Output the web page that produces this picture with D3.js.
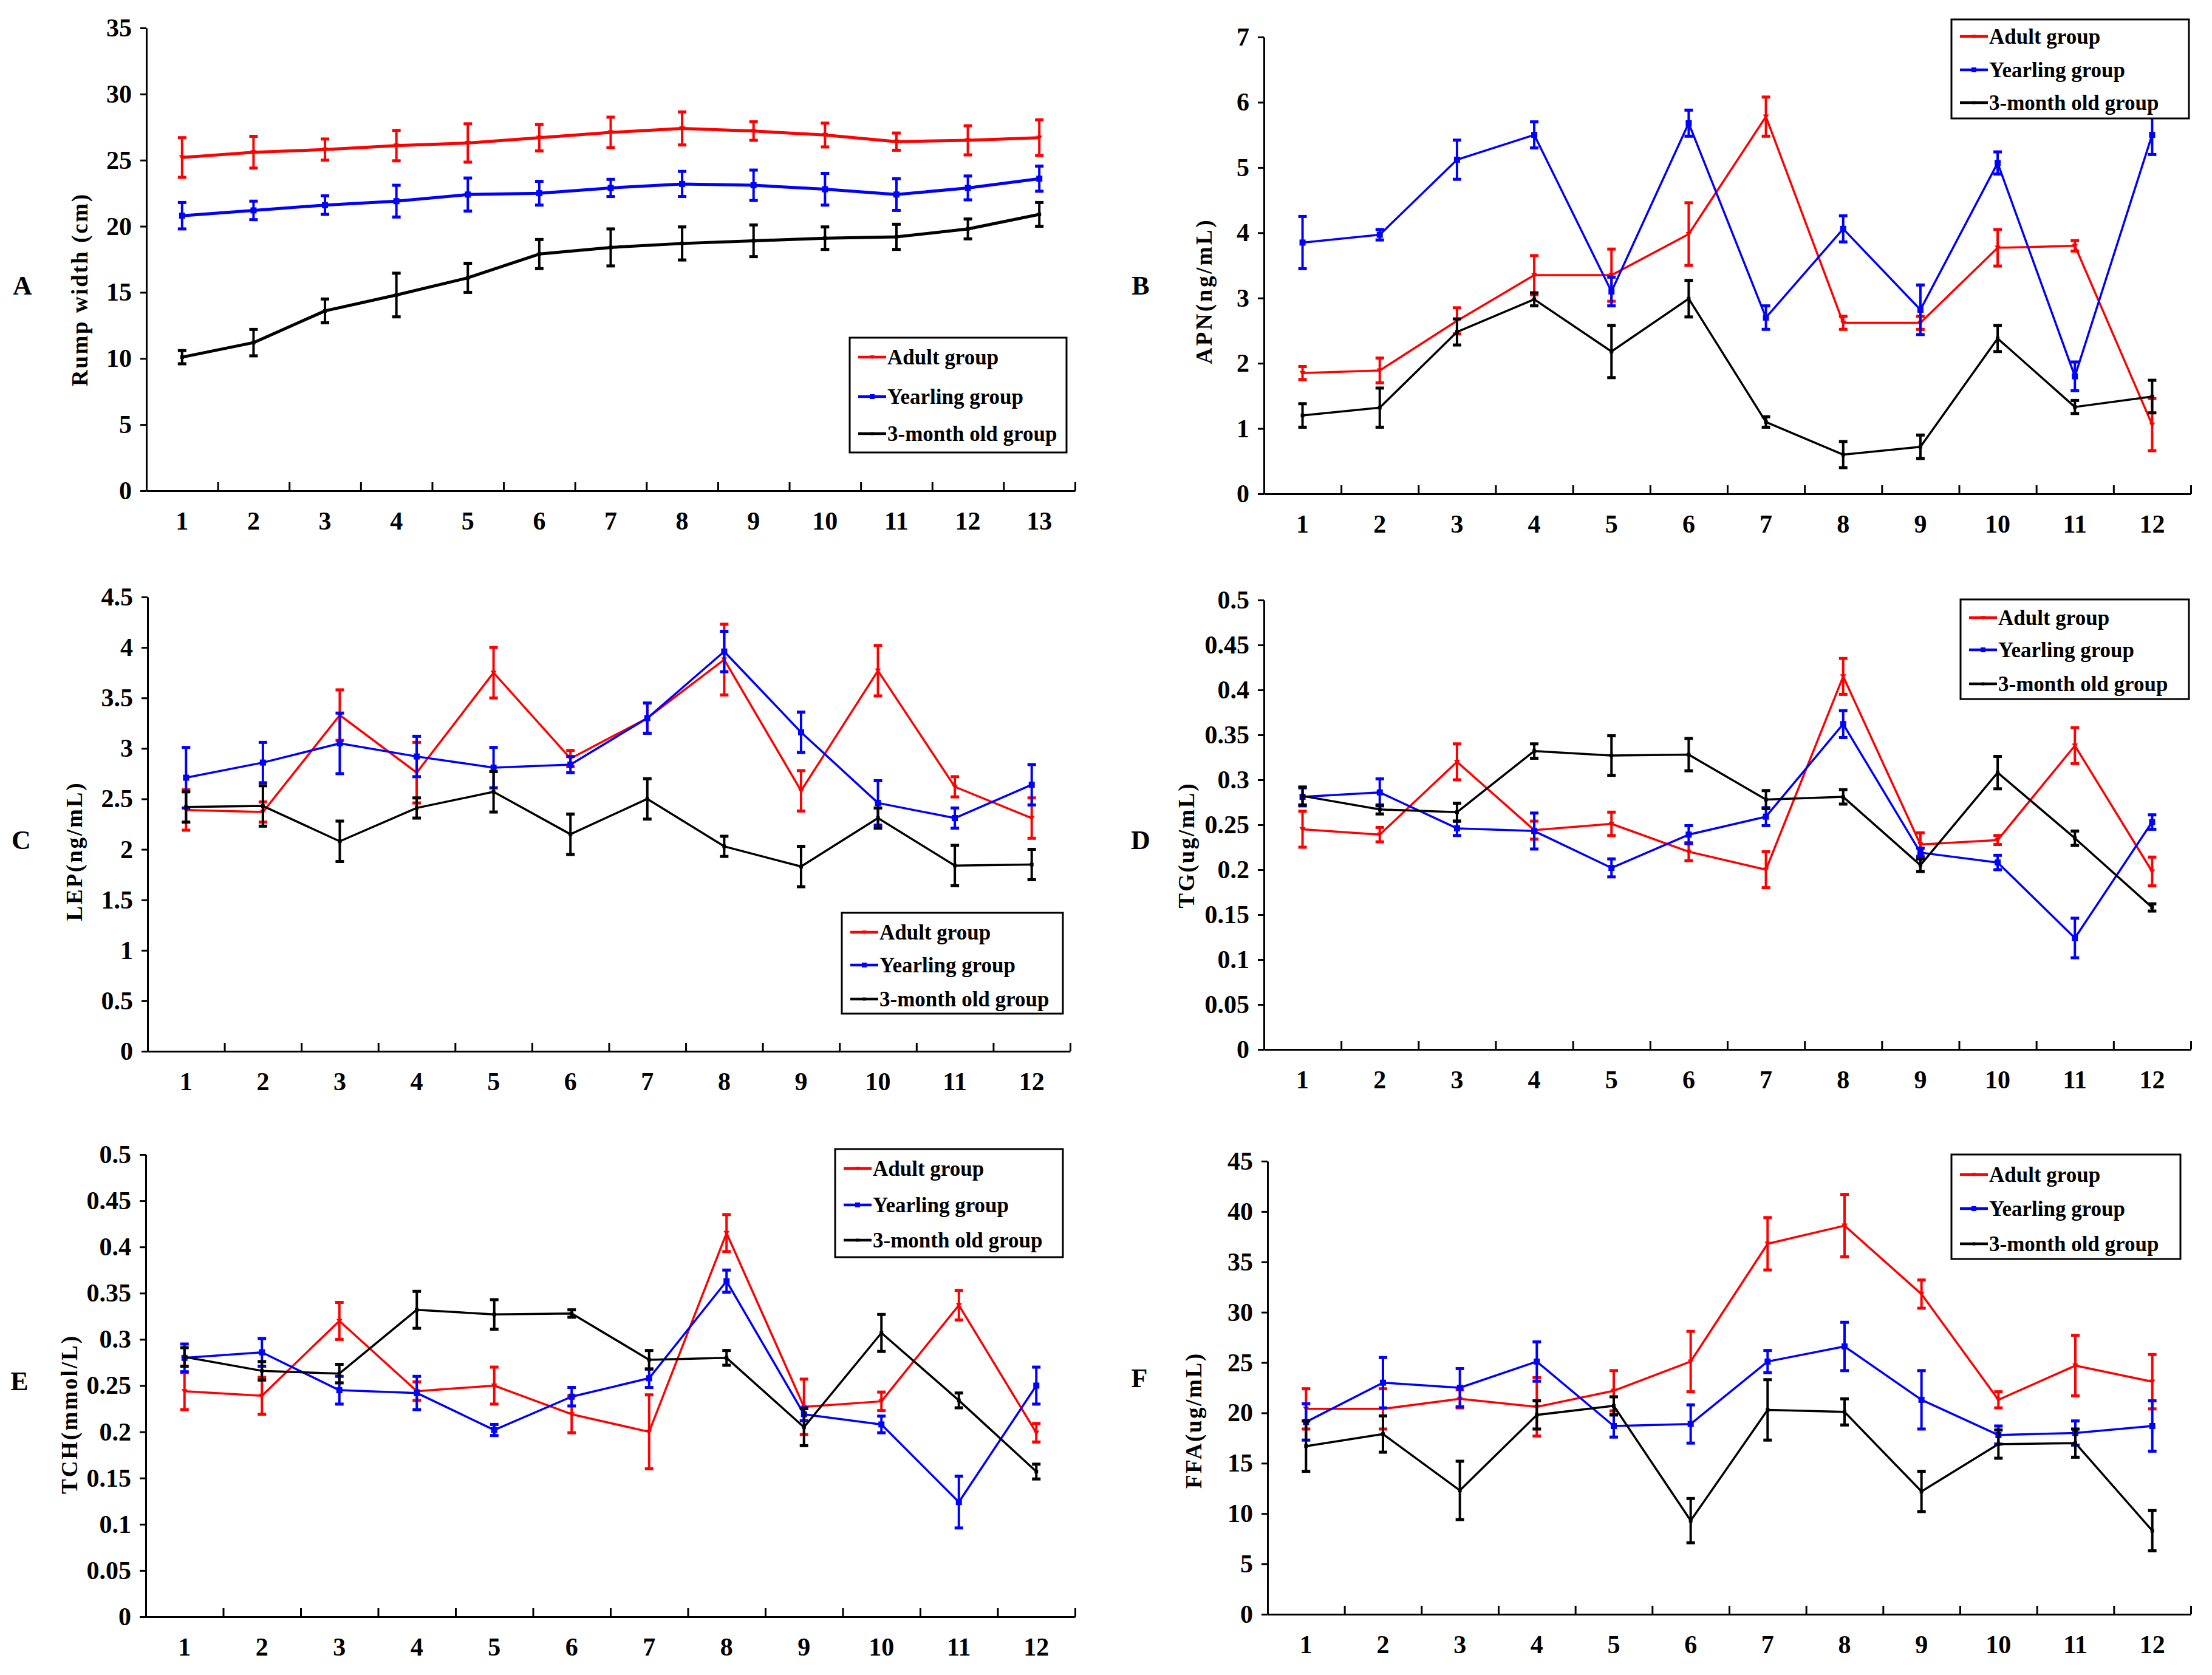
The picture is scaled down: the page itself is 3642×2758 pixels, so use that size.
<!DOCTYPE html>
<html><head><meta charset="utf-8">
<script src="https://cdn.jsdelivr.net/npm/d3@7"></script>
<style>html,body{margin:0;padding:0;background:#fff;} svg{display:block;}</style>
</head><body>
<svg id="chart" width="3642" height="2758"></svg>
<script>
// ---------- data ----------
const seriesNames = ["Adult group", "Yearling group", "3-month old group"];
const months13 = ["1","2","3","4","5","6","7","8","9","10","11","12","13"];
const months12 = ["1","2","3","4","5","6","7","8","9","10","11","12"];

// A: Rump width (cm)
const rumpAdult = [25.2,25.6,25.8,26.1,26.3,26.7,27.1,27.4,27.2,26.9,26.4,26.5,26.7];
const rumpAdultSE = [1.5,1.2,0.8,1.15,1.45,1.0,1.15,1.25,0.7,0.9,0.65,1.1,1.35];
const rumpYearling = [20.8,21.2,21.6,21.9,22.4,22.5,22.9,23.2,23.1,22.8,22.4,22.9,23.6];
const rumpYearlingSE = [1.0,0.7,0.7,1.2,1.25,0.9,0.65,0.95,1.15,1.2,1.2,0.9,0.95];
const rumpCalf = [10.1,11.2,13.6,14.8,16.1,17.9,18.4,18.7,18.9,19.1,19.2,19.8,20.9];
const rumpCalfSE = [0.5,1.0,0.9,1.65,1.1,1.1,1.4,1.25,1.2,0.85,0.95,0.75,0.9];
const rumpTicks = [0,5,10,15,20,25,30,35];
const rumpTickLabels = ["0","5","10","15","20","25","30","35"];

// B: APN (ng/mL)
const apnAdult = [1.85,1.89,2.65,3.35,3.35,3.98,5.78,2.62,2.62,3.77,3.80,1.06];
const apnAdultSE = [0.1,0.19,0.2,0.3,0.4,0.48,0.3,0.1,0.1,0.28,0.08,0.4];
const apnYearling = [3.85,3.97,5.12,5.50,3.10,5.68,2.70,4.06,2.82,5.07,1.80,5.50];
const apnYearlingSE = [0.4,0.08,0.3,0.2,0.22,0.2,0.18,0.2,0.38,0.17,0.22,0.3];
const apnCalf = [1.20,1.32,2.48,2.98,2.18,2.99,1.10,0.60,0.72,2.38,1.33,1.49];
const apnCalfSE = [0.18,0.3,0.2,0.1,0.4,0.28,0.08,0.2,0.18,0.2,0.1,0.25];
const apnTicks = [0,1,2,3,4,5,6,7];
const apnTickLabels = ["0","1","2","3","4","5","6","7"];

// C: LEP (ng/mL)
const lepAdult = [2.39,2.37,3.33,2.76,3.75,2.90,3.30,3.88,2.58,3.77,2.62,2.31];
const lepAdultSE = [0.2,0.1,0.25,0.3,0.25,0.08,0.15,0.35,0.2,0.25,0.1,0.2];
const lepYearling = [2.71,2.86,3.05,2.92,2.81,2.84,3.30,3.96,3.16,2.46,2.31,2.64];
const lepYearlingSE = [0.3,0.2,0.3,0.2,0.2,0.08,0.15,0.2,0.2,0.22,0.1,0.2];
const lepCalf = [2.42,2.43,2.08,2.41,2.57,2.15,2.50,2.03,1.83,2.31,1.84,1.85];
const lepCalfSE = [0.15,0.2,0.2,0.1,0.2,0.2,0.2,0.1,0.2,0.1,0.2,0.15];
const lepTicks = [0,0.5,1,1.5,2,2.5,3,3.5,4,4.5];
const lepTickLabels = ["0","0.5","1","1.5","2","2.5","3","3.5","4","4.5"];

// D: TG (ug/mL)
const tgAdult = [0.245,0.239,0.320,0.244,0.251,0.220,0.200,0.415,0.228,0.233,0.338,0.198];
const tgAdultSE = [0.02,0.008,0.02,0.01,0.013,0.01,0.02,0.02,0.013,0.005,0.02,0.016];
const tgYearling = [0.281,0.286,0.246,0.243,0.202,0.239,0.259,0.362,0.219,0.208,0.124,0.253];
const tgYearlingSE = [0.01,0.015,0.008,0.02,0.01,0.01,0.01,0.015,0.005,0.008,0.022,0.008];
const tgCalf = [0.282,0.267,0.264,0.332,0.327,0.328,0.278,0.281,0.205,0.308,0.235,0.158];
const tgCalfSE = [0.01,0.005,0.01,0.008,0.022,0.018,0.01,0.008,0.007,0.018,0.008,0.004];
const smallTicks = [0,0.05,0.1,0.15,0.2,0.25,0.3,0.35,0.4,0.45,0.5];
const smallTickLabels = ["0","0.05","0.1","0.15","0.2","0.25","0.3","0.35","0.4","0.45","0.5"];

// E: TCH (mmol/L)
const tchAdult = [0.244,0.239,0.320,0.244,0.250,0.219,0.200,0.415,0.227,0.233,0.337,0.199];
const tchAdultSE = [0.02,0.02,0.02,0.01,0.02,0.02,0.04,0.02,0.03,0.01,0.016,0.01];
const tchYearling = [0.280,0.286,0.245,0.242,0.202,0.238,0.258,0.363,0.219,0.208,0.124,0.250];
const tchYearlingSE = [0.015,0.015,0.015,0.018,0.006,0.01,0.01,0.012,0.007,0.009,0.028,0.02];
const tchCalf = [0.281,0.266,0.263,0.332,0.327,0.328,0.278,0.280,0.205,0.307,0.234,0.157];
const tchCalfSE = [0.01,0.01,0.01,0.02,0.016,0.004,0.01,0.008,0.02,0.02,0.008,0.008];

// F: FFA (ug/mL)
const ffaAdult = [20.4,20.4,21.4,20.6,22.2,25.1,36.8,38.6,31.8,21.3,24.7,23.1];
const ffaAdultSE = [2.0,2.0,0.9,2.9,2.0,3.0,2.6,3.1,1.4,0.8,3.0,2.7];
const ffaYearling = [19.1,23.0,22.5,25.1,18.7,18.9,25.1,26.6,21.3,17.8,18.0,18.7];
const ffaYearlingSE = [1.8,2.5,1.9,1.95,1.1,1.9,1.1,2.4,2.9,0.9,1.2,2.5];
const ffaCalf = [16.7,17.9,12.3,19.8,20.7,9.3,20.3,20.1,12.2,16.9,17.0,8.3];
const ffaCalfSE = [2.5,1.8,2.9,1.4,0.9,2.2,3.0,1.3,2.0,1.4,1.4,2.0];
const ffaTicks = [0,5,10,15,20,25,30,35,40,45];
const ffaTickLabels = ["0","5","10","15","20","25","30","35","40","45"];

// ---------- panel definitions (data binding) ----------
const panels = [
  {letter:"A", title:"Rump width (cm)", cats:months13, yMax:35, ticks:rumpTicks, tickLabels:rumpTickLabels,
   series:[[rumpAdult,rumpAdultSE],[rumpYearling,rumpYearlingSE],[rumpCalf,rumpCalfSE]]},
  {letter:"B", title:"APN(ng/mL)", cats:months12, yMax:7, ticks:apnTicks, tickLabels:apnTickLabels,
   series:[[apnAdult,apnAdultSE],[apnYearling,apnYearlingSE],[apnCalf,apnCalfSE]]},
  {letter:"C", title:"LEP(ng/mL)", cats:months12, yMax:4.5, ticks:lepTicks, tickLabels:lepTickLabels,
   series:[[lepAdult,lepAdultSE],[lepYearling,lepYearlingSE],[lepCalf,lepCalfSE]]},
  {letter:"D", title:"TG(ug/mL)", cats:months12, yMax:0.5, ticks:smallTicks, tickLabels:smallTickLabels,
   series:[[tgAdult,tgAdultSE],[tgYearling,tgYearlingSE],[tgCalf,tgCalfSE]]},
  {letter:"E", title:"TCH(mmol/L)", cats:months12, yMax:0.5, ticks:smallTicks, tickLabels:smallTickLabels,
   series:[[tchAdult,tchAdultSE],[tchYearling,tchYearlingSE],[tchCalf,tchCalfSE]]},
  {letter:"F", title:"FFA(ug/mL)", cats:months12, yMax:45, ticks:ffaTicks, tickLabels:ffaTickLabels,
   series:[[ffaAdult,ffaAdultSE],[ffaYearling,ffaYearlingSE],[ffaCalf,ffaCalfSE]]}
];

// ---------- layout & style ----------
const colors = ["#ff0000", "#0000ff", "#000000"];
const FONT = "'Liberation Serif', 'Times New Roman', serif";
const layout = {
  A:{left:241,right:1770,top:46,bottom:808, lx:37,ly:470, tx:131,ty:478,tl:316, lw:5,
     leg:{x:1399,y:556,w:357,h:189,rows:[32,97,158]}},
  B:{left:2081,right:3607,top:61,bottom:813, lx:1878,ly:470, tx:1982,ty:481,tl:237, lw:3.5,
     leg:{x:3213,y:32,w:391,h:163,rows:[28,83,137]}},
  C:{left:243,right:1762,top:983,bottom:1731, lx:35,ly:1383, tx:122,ty:1403,tl:227, lw:3.5,
     leg:{x:1386,y:1503,w:364,h:166,rows:[32,86,142]}},
  D:{left:2081,right:3607,top:988,bottom:1728, lx:1878,ly:1383, tx:1953,ty:1393,tl:205, lw:3.5,
     leg:{x:3228,y:987,w:376,h:164,rows:[30,83,139]}},
  E:{left:240,right:1770,top:1901,bottom:2662, lx:32,ly:2274, tx:114,ty:2330,tl:260, lw:3.5,
     leg:{x:1375,y:1892,w:375,h:178,rows:[32,92,150]}},
  F:{left:2087,right:3607,top:1912,bottom:2658, lx:1876,ly:2269, tx:1965,ty:2340,tl:222, lw:3.5,
     leg:{x:3213,y:1901,w:377,h:172,rows:[33,89,147]}}
};

const svg = d3.select("#chart");
svg.append("rect").attr("width",3642).attr("height",2758).attr("fill","#fff");

function marker(g, i, cx, cy, s) {
  if (i === 0) {
    g.append("path").attr("d", `M${cx-s},${cy-s*0.7}L${cx+s},${cy-s*0.7}L${cx},${cy+s*0.9}Z`).attr("fill", colors[i]);
  } else if (i === 1) {
    g.append("rect").attr("x",cx-s).attr("y",cy-s).attr("width",2*s).attr("height",2*s).attr("fill",colors[i]);
  } else {
    g.append("rect").attr("x",cx-s*0.6).attr("y",cy-s*0.6).attr("width",1.2*s).attr("height",1.2*s).attr("fill",colors[i]);
  }
}

panels.forEach(p => {
  const L = layout[p.letter];
  const g = svg.append("g");
  const n = p.cats.length;
  const x = d3.scaleBand().domain(p.cats).range([L.left, L.right]).padding(0);
  const y = d3.scaleLinear().domain([0, p.yMax]).range([L.bottom, L.top]);
  const xb = d3.scaleLinear().domain([0, n]).range([L.left, L.right]);

  // y axis
  const ya = g.append("g").attr("transform", `translate(${L.left},0)`)
    .call(d3.axisLeft(y).tickValues(p.ticks).tickFormat((d,i)=>p.tickLabels[i]).tickSize(10).tickSizeOuter(0).tickPadding(14));
  // x axis: boundary ticks
  const xa = g.append("g").attr("transform", `translate(0,${L.bottom})`)
    .call(d3.axisBottom(xb).tickValues(d3.range(1, n + 1)).tickSize(-14).tickSizeOuter(0).tickFormat(""));
  // x labels
  const xl = g.append("g").attr("transform", `translate(0,${L.bottom})`)
    .call(d3.axisBottom(x).tickSize(0).tickPadding(34));
  xl.select(".domain").remove();
  [ya, xa, xl].forEach(a => {
    a.select(".domain").attr("stroke", "#000").attr("stroke-width", 3);
    a.selectAll(".tick line").attr("stroke", "#000").attr("stroke-width", 3);
    a.selectAll(".tick text").attr("font-family", FONT).attr("font-weight", "bold")
      .attr("font-size", 42).attr("fill", "#000");
  });

  // panel letter
  g.append("text").attr("x", L.lx).attr("y", L.ly).attr("text-anchor","middle").attr("dominant-baseline","central")
    .attr("font-family", FONT).attr("font-weight","bold").attr("font-size", 44).text(p.letter);
  // y title
  g.append("text").attr("transform", `translate(${L.tx},${L.ty}) rotate(-90)`)
    .attr("text-anchor","middle").attr("dominant-baseline","central")
    .attr("font-family", FONT).attr("font-weight","bold").attr("font-size", 37)
    .attr("textLength", L.tl).attr("lengthAdjust","spacing").text(p.title);

  // series
  p.series.forEach((s, si) => {
    const vals = s[0], errs = s[1];
    const pts = vals.map((v, i) => ({c: p.cats[i], v, e: errs[i]}));
    const sg = g.append("g");
    const cx = d => x(d.c) + x.bandwidth() / 2;
    // error bars
    sg.selectAll("line.eb").data(pts).join("line").attr("class","eb")
      .attr("x1", cx).attr("x2", cx)
      .attr("y1", d => y(d.v - d.e)).attr("y2", d => y(d.v + d.e))
      .attr("stroke", colors[si]).attr("stroke-width", 4);
    ["lo","hi"].forEach(k => {
      sg.selectAll("line.cap" + k).data(pts).join("line").attr("class","cap" + k)
        .attr("x1", d => cx(d) - 7).attr("x2", d => cx(d) + 7)
        .attr("y1", d => y(k === "lo" ? d.v - d.e : d.v + d.e))
        .attr("y2", d => y(k === "lo" ? d.v - d.e : d.v + d.e))
        .attr("stroke", colors[si]).attr("stroke-width", 5);
    });
    // line
    sg.append("path").datum(pts)
      .attr("d", d3.line().x(cx).y(d => y(d.v)))
      .attr("fill","none").attr("stroke", colors[si]).attr("stroke-width", L.lw)
      .attr("stroke-linejoin","round");
    pts.forEach(d => marker(sg, si, cx(d), y(d.v), 5));
  });

  // legend
  const lg = L.leg;
  const leg = g.append("g");
  leg.append("rect").attr("x", lg.x).attr("y", lg.y).attr("width", lg.w).attr("height", lg.h)
    .attr("fill", "#fff").attr("stroke", "#000").attr("stroke-width", 3);
  seriesNames.forEach((name, i) => {
    const yy = lg.y + lg.rows[i];
    leg.append("line").attr("x1", lg.x + 14).attr("x2", lg.x + 60).attr("y1", yy).attr("y2", yy)
      .attr("stroke", colors[i]).attr("stroke-width", 4.5);
    marker(leg, i, lg.x + 37, yy, 4);
    leg.append("text").attr("x", lg.x + 62).attr("y", yy).attr("dominant-baseline","central")
      .attr("font-family", FONT).attr("font-weight","bold").attr("font-size", 35).text(name);
  });
});
</script>
</body></html>
